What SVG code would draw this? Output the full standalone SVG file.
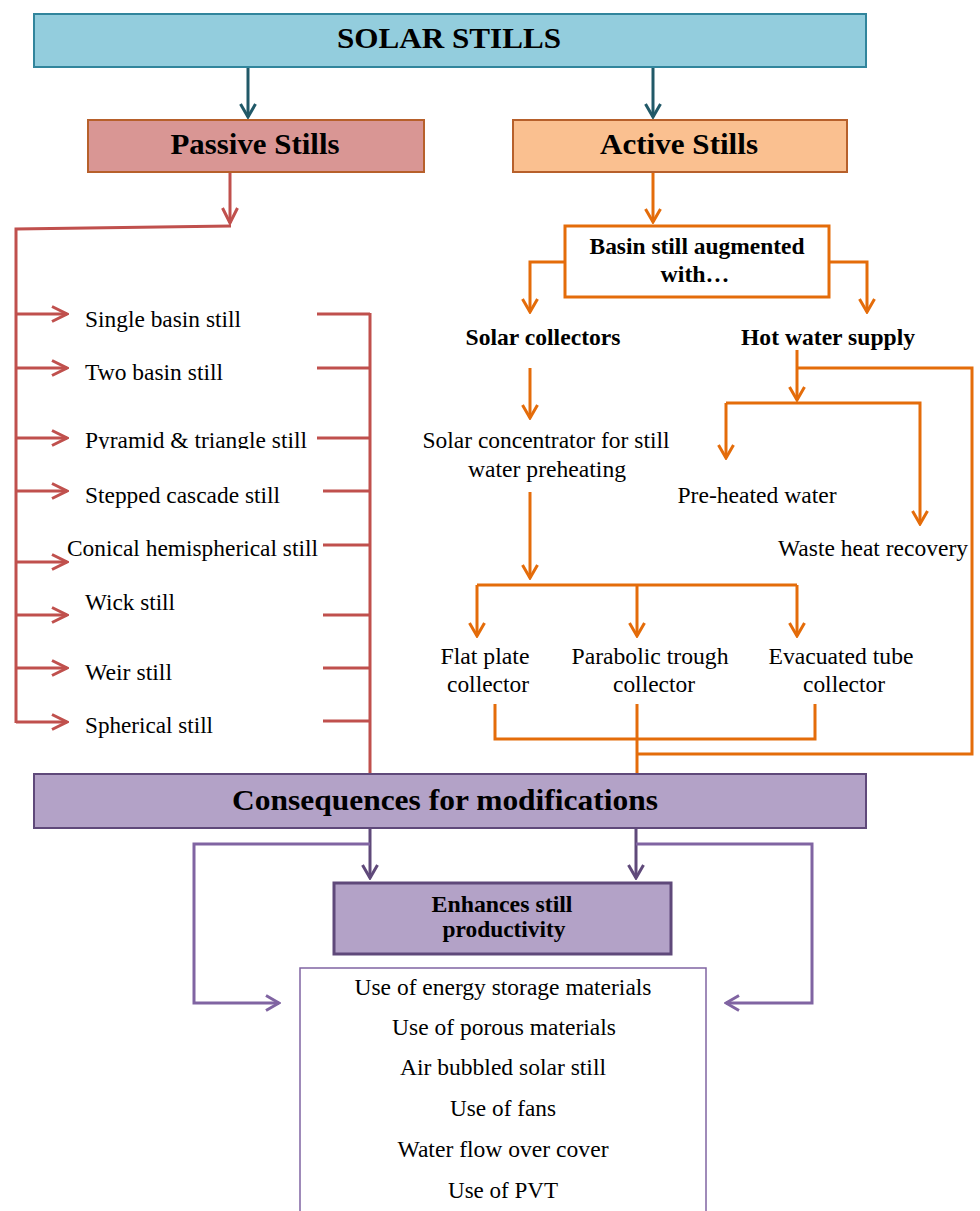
<svg xmlns="http://www.w3.org/2000/svg" width="980" height="1211" viewBox="0 0 980 1211">
<style>
text{font-family:"Liberation Serif","Times New Roman",serif;fill:#000}
.h{font-weight:bold}
.r{font-size:23.4px}
.c{text-anchor:middle}
.ln{fill:none;stroke-width:3}
.teal{stroke:#215968}
.red{stroke:#C0504D}
.org{stroke:#E46C0A}
.pd{stroke:#5F497A}
.pl{stroke:#8064A2}
</style>
<defs>
<marker id="mTeal" viewBox="0 0 16 18" refX="14" refY="9" markerWidth="16" markerHeight="18" markerUnits="userSpaceOnUse" orient="auto"><path d="M1,1.5 L14,9 L1,16.5" fill="none" stroke="#215968" stroke-width="3"/></marker>
<marker id="mRed" viewBox="0 0 18 18" refX="16" refY="9" markerWidth="18" markerHeight="18" markerUnits="userSpaceOnUse" orient="auto"><path d="M1,1.5 L16,9 L1,16.5" fill="none" stroke="#C0504D" stroke-width="3"/></marker>
<marker id="mOrg" viewBox="0 0 16 18" refX="14" refY="9" markerWidth="16" markerHeight="18" markerUnits="userSpaceOnUse" orient="auto"><path d="M1,1.5 L14,9 L1,16.5" fill="none" stroke="#E46C0A" stroke-width="3"/></marker>
<marker id="mPd" viewBox="0 0 16 18" refX="14" refY="9" markerWidth="16" markerHeight="18" markerUnits="userSpaceOnUse" orient="auto"><path d="M1,1.5 L14,9 L1,16.5" fill="none" stroke="#5F497A" stroke-width="3"/></marker>
<marker id="mPl" viewBox="0 0 16 18" refX="14" refY="9" markerWidth="16" markerHeight="18" markerUnits="userSpaceOnUse" orient="auto"><path d="M1,1.5 L14,9 L1,16.5" fill="none" stroke="#8064A2" stroke-width="3"/></marker>
<clipPath id="clipPyr"><rect x="60" y="415" width="260" height="34"/></clipPath>
</defs>

<g id="connectors">
  <path class="ln teal" d="M248,67 V117" marker-end="url(#mTeal)"/>
  <path class="ln teal" d="M653,67 V117" marker-end="url(#mTeal)"/>

  <path class="ln red" d="M230,172 V223" marker-end="url(#mRed)"/>
  <path class="ln red" d="M231,226 L16,229 V723"/>
  <path class="ln red" d="M16,314 H67" marker-end="url(#mRed)"/>
  <path class="ln red" d="M16,368 H67" marker-end="url(#mRed)"/>
  <path class="ln red" d="M16,438 H67" marker-end="url(#mRed)"/>
  <path class="ln red" d="M16,491 H67" marker-end="url(#mRed)"/>
  <path class="ln red" d="M16,562 H67" marker-end="url(#mRed)"/>
  <path class="ln red" d="M16,615 H67" marker-end="url(#mRed)"/>
  <path class="ln red" d="M16,668 H67" marker-end="url(#mRed)"/>
  <path class="ln red" d="M16,722 H67" marker-end="url(#mRed)"/>
  <path class="ln red" d="M317,314 H370 M317,368 H370 M317,438 H370 M323,491 H370 M323,545 H370 M323,615 H370 M323,668 H370 M323,721 H370"/>
  <path class="ln red" d="M370,313 V774"/>

  <path class="ln org" d="M653,172 V222" marker-end="url(#mOrg)"/>
  <path class="ln org" d="M565,262 H530 V312" marker-end="url(#mOrg)"/>
  <path class="ln org" d="M829,262 H867 V312" marker-end="url(#mOrg)"/>
  <path class="ln org" d="M530,368 V418" marker-end="url(#mOrg)"/>
  <path class="ln org" d="M797,350 V400" marker-end="url(#mOrg)"/>
  <path class="ln org" d="M797,368 H972 V754 H637"/>
  <path class="ln org" d="M726,403 V458" marker-end="url(#mOrg)"/>
  <path class="ln org" d="M726,403 H920 V524" marker-end="url(#mOrg)"/>
  <path class="ln org" d="M530,492 V578" marker-end="url(#mOrg)"/>
  <path class="ln org" d="M477,585 H797"/>
  <path class="ln org" d="M477,585 V636" marker-end="url(#mOrg)"/>
  <path class="ln org" d="M637,585 V636" marker-end="url(#mOrg)"/>
  <path class="ln org" d="M797,585 V636" marker-end="url(#mOrg)"/>
  <path class="ln org" d="M495,704 V739 H815 V704"/>
  <path class="ln org" d="M637,704 V774"/>

  <path class="ln pd" d="M370,828 V878" marker-end="url(#mPd)"/>
  <path class="ln pd" d="M636,828 V878" marker-end="url(#mPd)"/>
  <path class="ln pl" d="M370,844 H194 V1003 H279" marker-end="url(#mPl)"/>
  <path class="ln pl" d="M636,844 H812 V1003 H726" marker-end="url(#mPl)"/>
</g>

<g id="solar-stills">
  <rect x="34" y="14" width="832" height="53" fill="#93CDDD" stroke="#31859C" stroke-width="2"/>
  <text class="h c" x="449" y="48" font-size="30" textLength="224" lengthAdjust="spacingAndGlyphs">SOLAR STILLS</text>
</g>
<g id="passive-stills">
  <rect x="88" y="120" width="336" height="52" fill="#D99694" stroke="#B7602B" stroke-width="2"/>
  <text class="h c" x="255" y="154" font-size="30" textLength="169" lengthAdjust="spacingAndGlyphs">Passive Stills</text>
</g>
<g id="active-stills">
  <rect x="513" y="120" width="334" height="52" fill="#FAC090" stroke="#B7602B" stroke-width="2"/>
  <text class="h c" x="679" y="154" font-size="30" textLength="158" lengthAdjust="spacingAndGlyphs">Active Stills</text>
</g>

<g id="single-basin"><text class="r" x="85" y="327" textLength="156" lengthAdjust="spacingAndGlyphs">Single basin still</text></g>
<g id="two-basin"><text class="r" x="85" y="380" textLength="138" lengthAdjust="spacingAndGlyphs">Two basin still</text></g>
<g id="pyramid"><text class="r" x="85" y="448" textLength="222" lengthAdjust="spacingAndGlyphs" clip-path="url(#clipPyr)">Pyramid &amp; triangle still</text></g>
<g id="stepped"><text class="r" x="85" y="503" textLength="195" lengthAdjust="spacingAndGlyphs">Stepped cascade still</text></g>
<g id="conical"><text class="r" x="67" y="556" textLength="251" lengthAdjust="spacingAndGlyphs">Conical hemispherical still</text></g>
<g id="wick"><text class="r" x="85" y="610" textLength="90" lengthAdjust="spacingAndGlyphs">Wick still</text></g>
<g id="weir"><text class="r" x="85" y="680" textLength="87" lengthAdjust="spacingAndGlyphs">Weir still</text></g>
<g id="spherical"><text class="r" x="85" y="733" textLength="128" lengthAdjust="spacingAndGlyphs">Spherical still</text></g>

<g id="basin-augmented">
  <rect x="565" y="226" width="264" height="71" fill="#fff" stroke="#E46C0A" stroke-width="3"/>
  <text class="h c" x="697" y="254" font-size="23.4" textLength="215" lengthAdjust="spacingAndGlyphs">Basin still augmented</text>
  <text class="h c" x="695" y="282" font-size="23.4" textLength="69" lengthAdjust="spacingAndGlyphs">with…</text>
</g>
<g id="solar-collectors"><text class="h c" x="543" y="345" font-size="23.4" textLength="155" lengthAdjust="spacingAndGlyphs">Solar collectors</text></g>
<g id="hot-water"><text class="h c" x="828" y="345" font-size="23.4" textLength="174" lengthAdjust="spacingAndGlyphs">Hot water supply</text></g>
<g id="concentrator">
  <text class="r c" x="546" y="448" textLength="247" lengthAdjust="spacingAndGlyphs">Solar concentrator for still</text>
  <text class="r c" x="547" y="477" textLength="158" lengthAdjust="spacingAndGlyphs">water preheating</text>
</g>
<g id="preheated"><text class="r c" x="757" y="503" textLength="159" lengthAdjust="spacingAndGlyphs">Pre-heated water</text></g>
<g id="waste-heat"><text class="r c" x="873" y="556" textLength="190" lengthAdjust="spacingAndGlyphs">Waste heat recovery</text></g>
<g id="flat-plate">
  <text class="r c" x="485" y="664" textLength="89" lengthAdjust="spacingAndGlyphs">Flat plate</text>
  <text class="r c" x="488" y="692" textLength="82" lengthAdjust="spacingAndGlyphs">collector</text>
</g>
<g id="parabolic">
  <text class="r c" x="650" y="664" textLength="157" lengthAdjust="spacingAndGlyphs">Parabolic trough</text>
  <text class="r c" x="654" y="692" textLength="82" lengthAdjust="spacingAndGlyphs">collector</text>
</g>
<g id="evacuated">
  <text class="r c" x="841" y="664" textLength="145" lengthAdjust="spacingAndGlyphs">Evacuated tube</text>
  <text class="r c" x="844" y="692" textLength="82" lengthAdjust="spacingAndGlyphs">collector</text>
</g>

<g id="consequences">
  <rect x="34" y="774" width="832" height="54" fill="#B3A2C7" stroke="#5F497A" stroke-width="2"/>
  <text class="h c" x="445" y="810" font-size="30" textLength="426" lengthAdjust="spacingAndGlyphs">Consequences for modifications</text>
</g>
<g id="enhances">
  <rect x="334" y="883" width="337" height="71" fill="#B3A2C7" stroke="#5F497A" stroke-width="3"/>
  <text class="h c" x="502" y="912" font-size="23" textLength="141" lengthAdjust="spacingAndGlyphs">Enhances still</text>
  <text class="h c" x="504" y="937" font-size="23" textLength="123" lengthAdjust="spacingAndGlyphs">productivity</text>
</g>
<g id="methods">
  <rect x="300" y="968" width="406" height="260" fill="#fff" stroke="#8064A2" stroke-width="1.5"/>
  <text class="r c" x="503" y="995" textLength="297" lengthAdjust="spacingAndGlyphs">Use of energy storage materials</text>
  <text class="r c" x="504" y="1035" textLength="224" lengthAdjust="spacingAndGlyphs">Use of porous materials</text>
  <text class="r c" x="503" y="1075" textLength="206" lengthAdjust="spacingAndGlyphs">Air bubbled solar still</text>
  <text class="r c" x="503" y="1116" textLength="106" lengthAdjust="spacingAndGlyphs">Use of fans</text>
  <text class="r c" x="503" y="1157" textLength="211" lengthAdjust="spacingAndGlyphs">Water flow over cover</text>
  <text class="r c" x="503" y="1198" textLength="110" lengthAdjust="spacingAndGlyphs">Use of PVT</text>
</g>
</svg>
